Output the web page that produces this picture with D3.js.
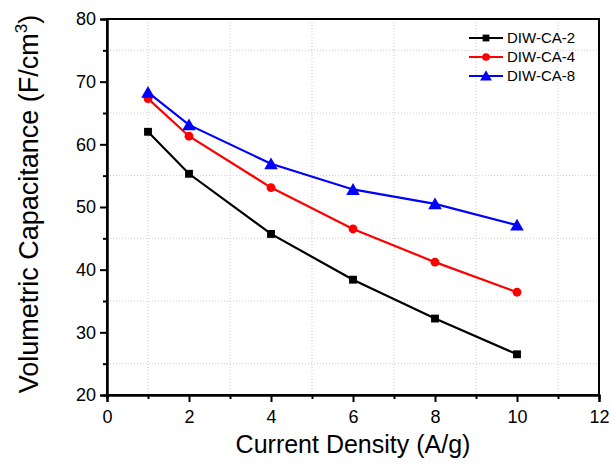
<!DOCTYPE html>
<html>
<head>
<meta charset="utf-8">
<script src="https://cdn.jsdelivr.net/npm/d3@7"></script>
<style>
body { margin: 0; background: #fff; }
text { font-family: "Liberation Sans", Arial, sans-serif; }
</style>
</head>
<body>
<svg id="chart" width="611" height="472"></svg>
<script>
"use strict";

// data
var currentDensity = [1, 2, 4, 6, 8, 10];
var seriesNames = ["DIW-CA-2", "DIW-CA-4", "DIW-CA-8"];
var ca2 = [62.0, 55.3, 45.7, 38.4, 32.2, 26.5];
var ca4 = [67.3, 61.3, 53.1, 46.5, 41.2, 36.4];
var ca8 = [68.3, 63.1, 56.9, 52.8, 50.5, 47.1];
var xTicks = [0, 2, 4, 6, 8, 10, 12];
var yTicks = [20, 30, 40, 50, 60, 70, 80];

var colors = ["#000000", "#ff0000", "#0000ff"];
var symbols = [d3.symbolSquare, d3.symbolCircle, d3.symbolTriangle];
var symSize = [62, 62, 80];

var svg = d3.select("#chart");
var pLeft = 107, pRight = 599, pTop = 19, pBottom = 395;

var x = d3.scaleLinear().domain([0, 12]).range([pLeft, pRight]);
var y = d3.scaleLinear().domain([20, 80]).range([pBottom, pTop]);

//
//	dotted grid at the minor ticks
//
var xMinor = d3.range(1, 12, 2);
var yMinor = d3.range(25, 80, 10);
svg.append("g").selectAll("line").data(xMinor).enter().append("line")
	.attr("x1", function(d){ return x(d); }).attr("x2", function(d){ return x(d); })
	.attr("y1", pTop).attr("y2", pBottom)
	.attr("stroke", "#cccccc").attr("stroke-width", 1).attr("stroke-dasharray", "1,2");
svg.append("g").selectAll("line").data(yMinor).enter().append("line")
	.attr("x1", pLeft).attr("x2", pRight)
	.attr("y1", function(d){ return y(d); }).attr("y2", function(d){ return y(d); })
	.attr("stroke", "#cccccc").attr("stroke-width", 1).attr("stroke-dasharray", "1,2");

// frame
svg.append("rect").attr("x", pLeft).attr("y", pTop)
	.attr("width", pRight - pLeft).attr("height", pBottom - pTop)
	.attr("fill", "none").attr("stroke", "#000").attr("stroke-width", 2);

//
//	axes, major and minor ticks pointing out
//
svg.append("g").attr("transform", "translate(0," + pBottom + ")")
	.call(d3.axisBottom(x).tickValues(xTicks).tickSize(7).tickPadding(8).tickFormat(d3.format("d")));
svg.append("g").attr("transform", "translate(0," + pBottom + ")")
	.call(d3.axisBottom(x).tickValues(xMinor).tickSize(4).tickFormat(""));
svg.append("g").attr("transform", "translate(" + pLeft + ",0)")
	.call(d3.axisLeft(y).tickValues(yTicks).tickSize(7).tickPadding(4).tickFormat(d3.format("d")));
svg.append("g").attr("transform", "translate(" + pLeft + ",0)")
	.call(d3.axisLeft(y).tickValues(yMinor).tickSize(4).tickFormat(""));

svg.selectAll(".domain").attr("stroke-width", 2);
svg.selectAll(".tick line").attr("stroke-width", 2);
svg.selectAll(".tick text").style("font-size", "18px").attr("fill", "#000");

// axis titles
svg.append("text").attr("x", (pLeft + pRight) / 2).attr("y", 453)
	.attr("text-anchor", "middle").style("font-size", "25px").text("Current Density (A/g)");
var yt = svg.append("text").attr("transform", "translate(38,204) rotate(-90)")
	.attr("text-anchor", "middle").style("font-size", "27px");
yt.append("tspan").text("Volumetric Capacitance (F/cm");
yt.append("tspan").attr("dy", -11).style("font-size", "17px").text("3");
yt.append("tspan").attr("dy", 11).text(")");

//
//	series lines and markers
//
var allSeries = [ca2, ca4, ca8];
var line = d3.line().x(function(d, i){ return x(currentDensity[i]); }).y(function(d){ return y(d); });

allSeries.forEach(function(s, k){
	svg.append("path").datum(s).attr("d", line)
		.attr("fill", "none").attr("stroke", colors[k]).attr("stroke-width", 2.2);
	svg.append("g").selectAll("path").data(s).enter().append("path")
		.attr("transform", function(d, i){
			var dy = k == 2 ? 1.5 : 0;
			return "translate(" + x(currentDensity[i]) + "," + (y(d) + dy) + ")";
		})
		.attr("d", d3.symbol().type(symbols[k]).size(symSize[k]))
		.attr("fill", colors[k]);
});

//
//	legend
//
var leg = svg.append("g");
seriesNames.forEach(function(name, k){
	var ly = 38 + k * 19;
	leg.append("line").attr("x1", 469).attr("x2", 503).attr("y1", ly).attr("y2", ly)
		.attr("stroke", colors[k]).attr("stroke-width", 2.2);
	leg.append("path").attr("transform", "translate(486," + (ly + (k == 2 ? 1 : 0)) + ")")
		.attr("d", d3.symbol().type(symbols[k]).size(symSize[k] * 0.75)).attr("fill", colors[k]);
	leg.append("text").attr("x", 507).attr("y", ly + 5).style("font-size", "15px").text(name);
});
</script>
</body>
</html>
